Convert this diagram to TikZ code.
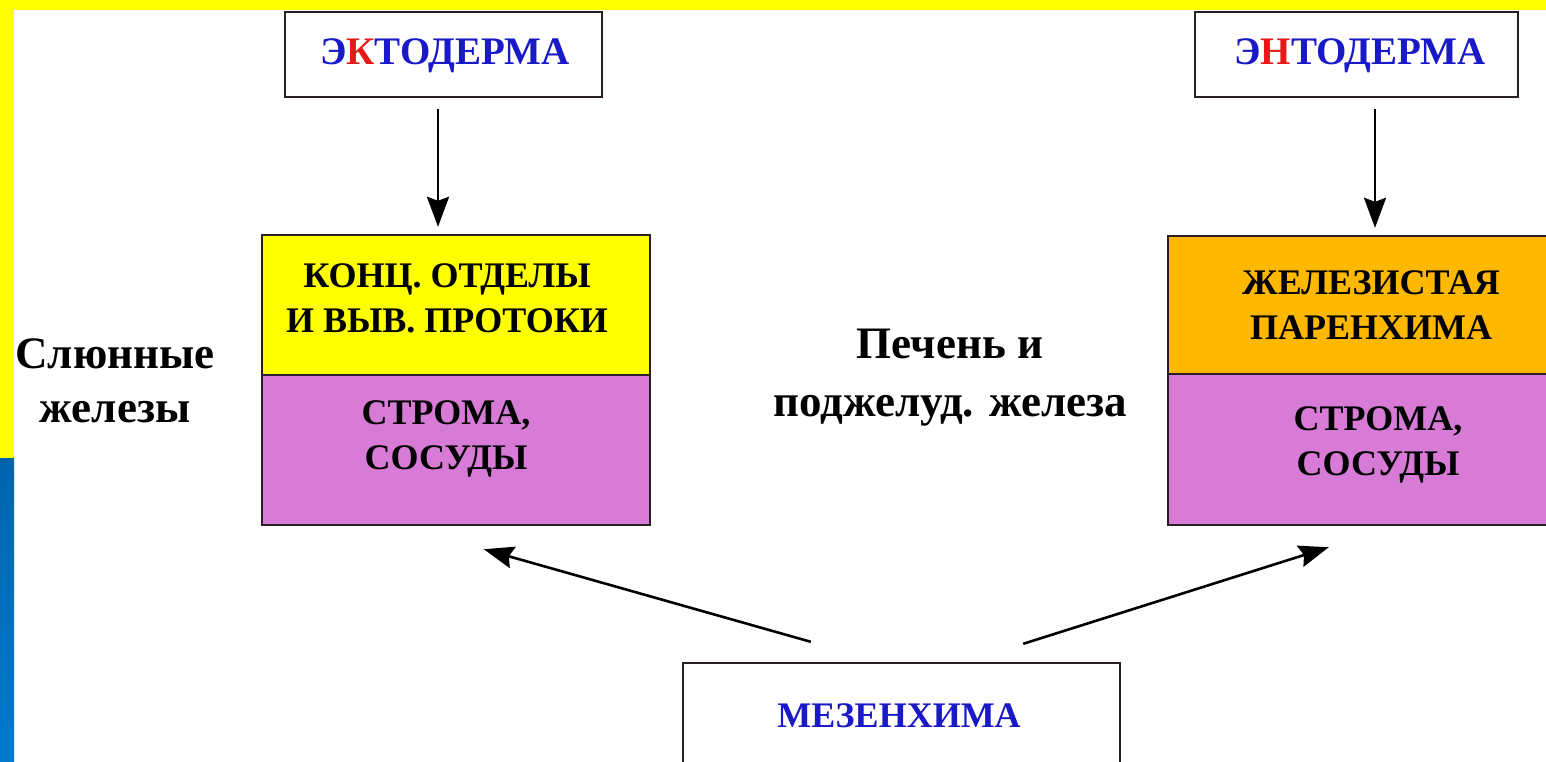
\documentclass[tikz,border=0pt]{standalone}
\usepackage{fontspec}
\setmainfont{Liberation Serif}
\usetikzlibrary{arrows.meta}
\definecolor{bandyellow}{RGB}{255,255,0}
\definecolor{violetbox}{RGB}{215,123,215}
\definecolor{orangebox}{RGB}{255,184,0}
\definecolor{txtblue}{RGB}{25,25,200}
\definecolor{txtred}{RGB}{230,25,25}
\definecolor{stripblueA}{RGB}{0,100,172}
\definecolor{stripblueB}{RGB}{0,122,206}
\definecolor{boxline}{RGB}{40,30,40}
\begin{document}
\begin{tikzpicture}[x=0.5pt,y=-0.5pt,
  frame/.style={draw=boxline,line width=1.2pt,rectangle,inner sep=0pt},
  capstxt/.style={inner sep=0pt,align=center,font=\fontsize{18}{22.5}\selectfont\bfseries},
  headtxt/.style={inner sep=0pt,font=\fontsize{18}{22}\selectfont\bfseries,text=txtblue},
  sidetxt/.style={inner sep=0pt,align=center,font=\fontsize{22.5}{27}\selectfont\bfseries},
  arr/.style={line width=1.3pt,draw=black,-{Stealth[length=15pt,width=11pt,inset=2pt]}}]
\clip (0,0) rectangle (1546,761);
\fill[white] (0,0) rectangle (1546,761);
% border bands
\fill[bandyellow] (0,0) rectangle (1546,10);
\fill[bandyellow] (0,0) rectangle (14,458);
\shade[top color=stripblueA,bottom color=stripblueB] (0,458) rectangle (14,761);
% top boxes
\node[frame,fill=white,minimum width=158.5pt,minimum height=42.5pt] (ecto) at (443.5,54.5) {};
\node[headtxt,font=\fontsize{19.5}{22}\selectfont\bfseries] (ectoT) at (445,56) {Э\textcolor{txtred}{К}ТОДЕРМА};
\node[frame,fill=white,minimum width=161.5pt,minimum height=42.5pt] (ento) at (1356.5,54.5) {};
\node[headtxt,font=\fontsize{19.5}{22}\selectfont\bfseries] (entoT) at (1360,56) {Э\textcolor{txtred}{Н}ТОДЕРМА};
% left composite
\node[frame,fill=bandyellow,minimum width=194pt,minimum height=70pt] (lt) at (456,305) {};
\node[frame,fill=violetbox,minimum width=194pt,minimum height=75pt] (lb) at (456,450) {};
\node[capstxt] (ltT) at (447,298) {КОНЦ. ОТДЕЛЫ\\И ВЫВ. ПРОТОКИ};
\node[capstxt] (lbT) at (446,439) {СТРОМА,\\СОСУДЫ};
% right composite
\node[frame,fill=orangebox,minimum width=203pt,minimum height=69pt] (rt) at (1371,305) {};
\node[frame,fill=violetbox,minimum width=203pt,minimum height=75.5pt] (rb) at (1371,449.5) {};
\node[capstxt] (rtT) at (1371,305) {ЖЕЛЕЗИСТАЯ\\ПАРЕНХИМА};
\node[capstxt] (rbT) at (1378,445) {СТРОМА,\\СОСУДЫ};
% bottom box
\node[frame,fill=white,minimum width=218.5pt,minimum height=68.5pt] (mes) at (901.5,731.5) {};
\node[headtxt] (mesT) at (899,716) {МЕЗЕНХИМА};
% side labels
\node[sidetxt] (saliv) at (115,381) {Слюнные\\железы};
\node[sidetxt,font=\fontsize{22.5}{29}\selectfont\bfseries] (liver) at (950,378) {Печень и\\поджелуд. железа};
% arrows
\draw[arr] ([xshift=-2.75pt,yshift=-5.5pt]ecto.south) -- ([xshift=-2.75pt,yshift=3.5pt]ecto.south |- lt.north);
\draw[arr] ([xshift=9.25pt,yshift=-5.5pt]ento.south) -- ([xshift=9.25pt,yshift=3.5pt]ento.south |- rt.north);
\draw[arr] ([xshift=64.5pt,yshift=10pt]mes.north west) -- ([xshift=111.5pt,yshift=-11.5pt]lb.south west);
\draw[arr] ([xshift=-49pt,yshift=9pt]mes.north east) -- ([xshift=81pt,yshift=-10.5pt]rb.south west);
\end{tikzpicture}
\end{document}
